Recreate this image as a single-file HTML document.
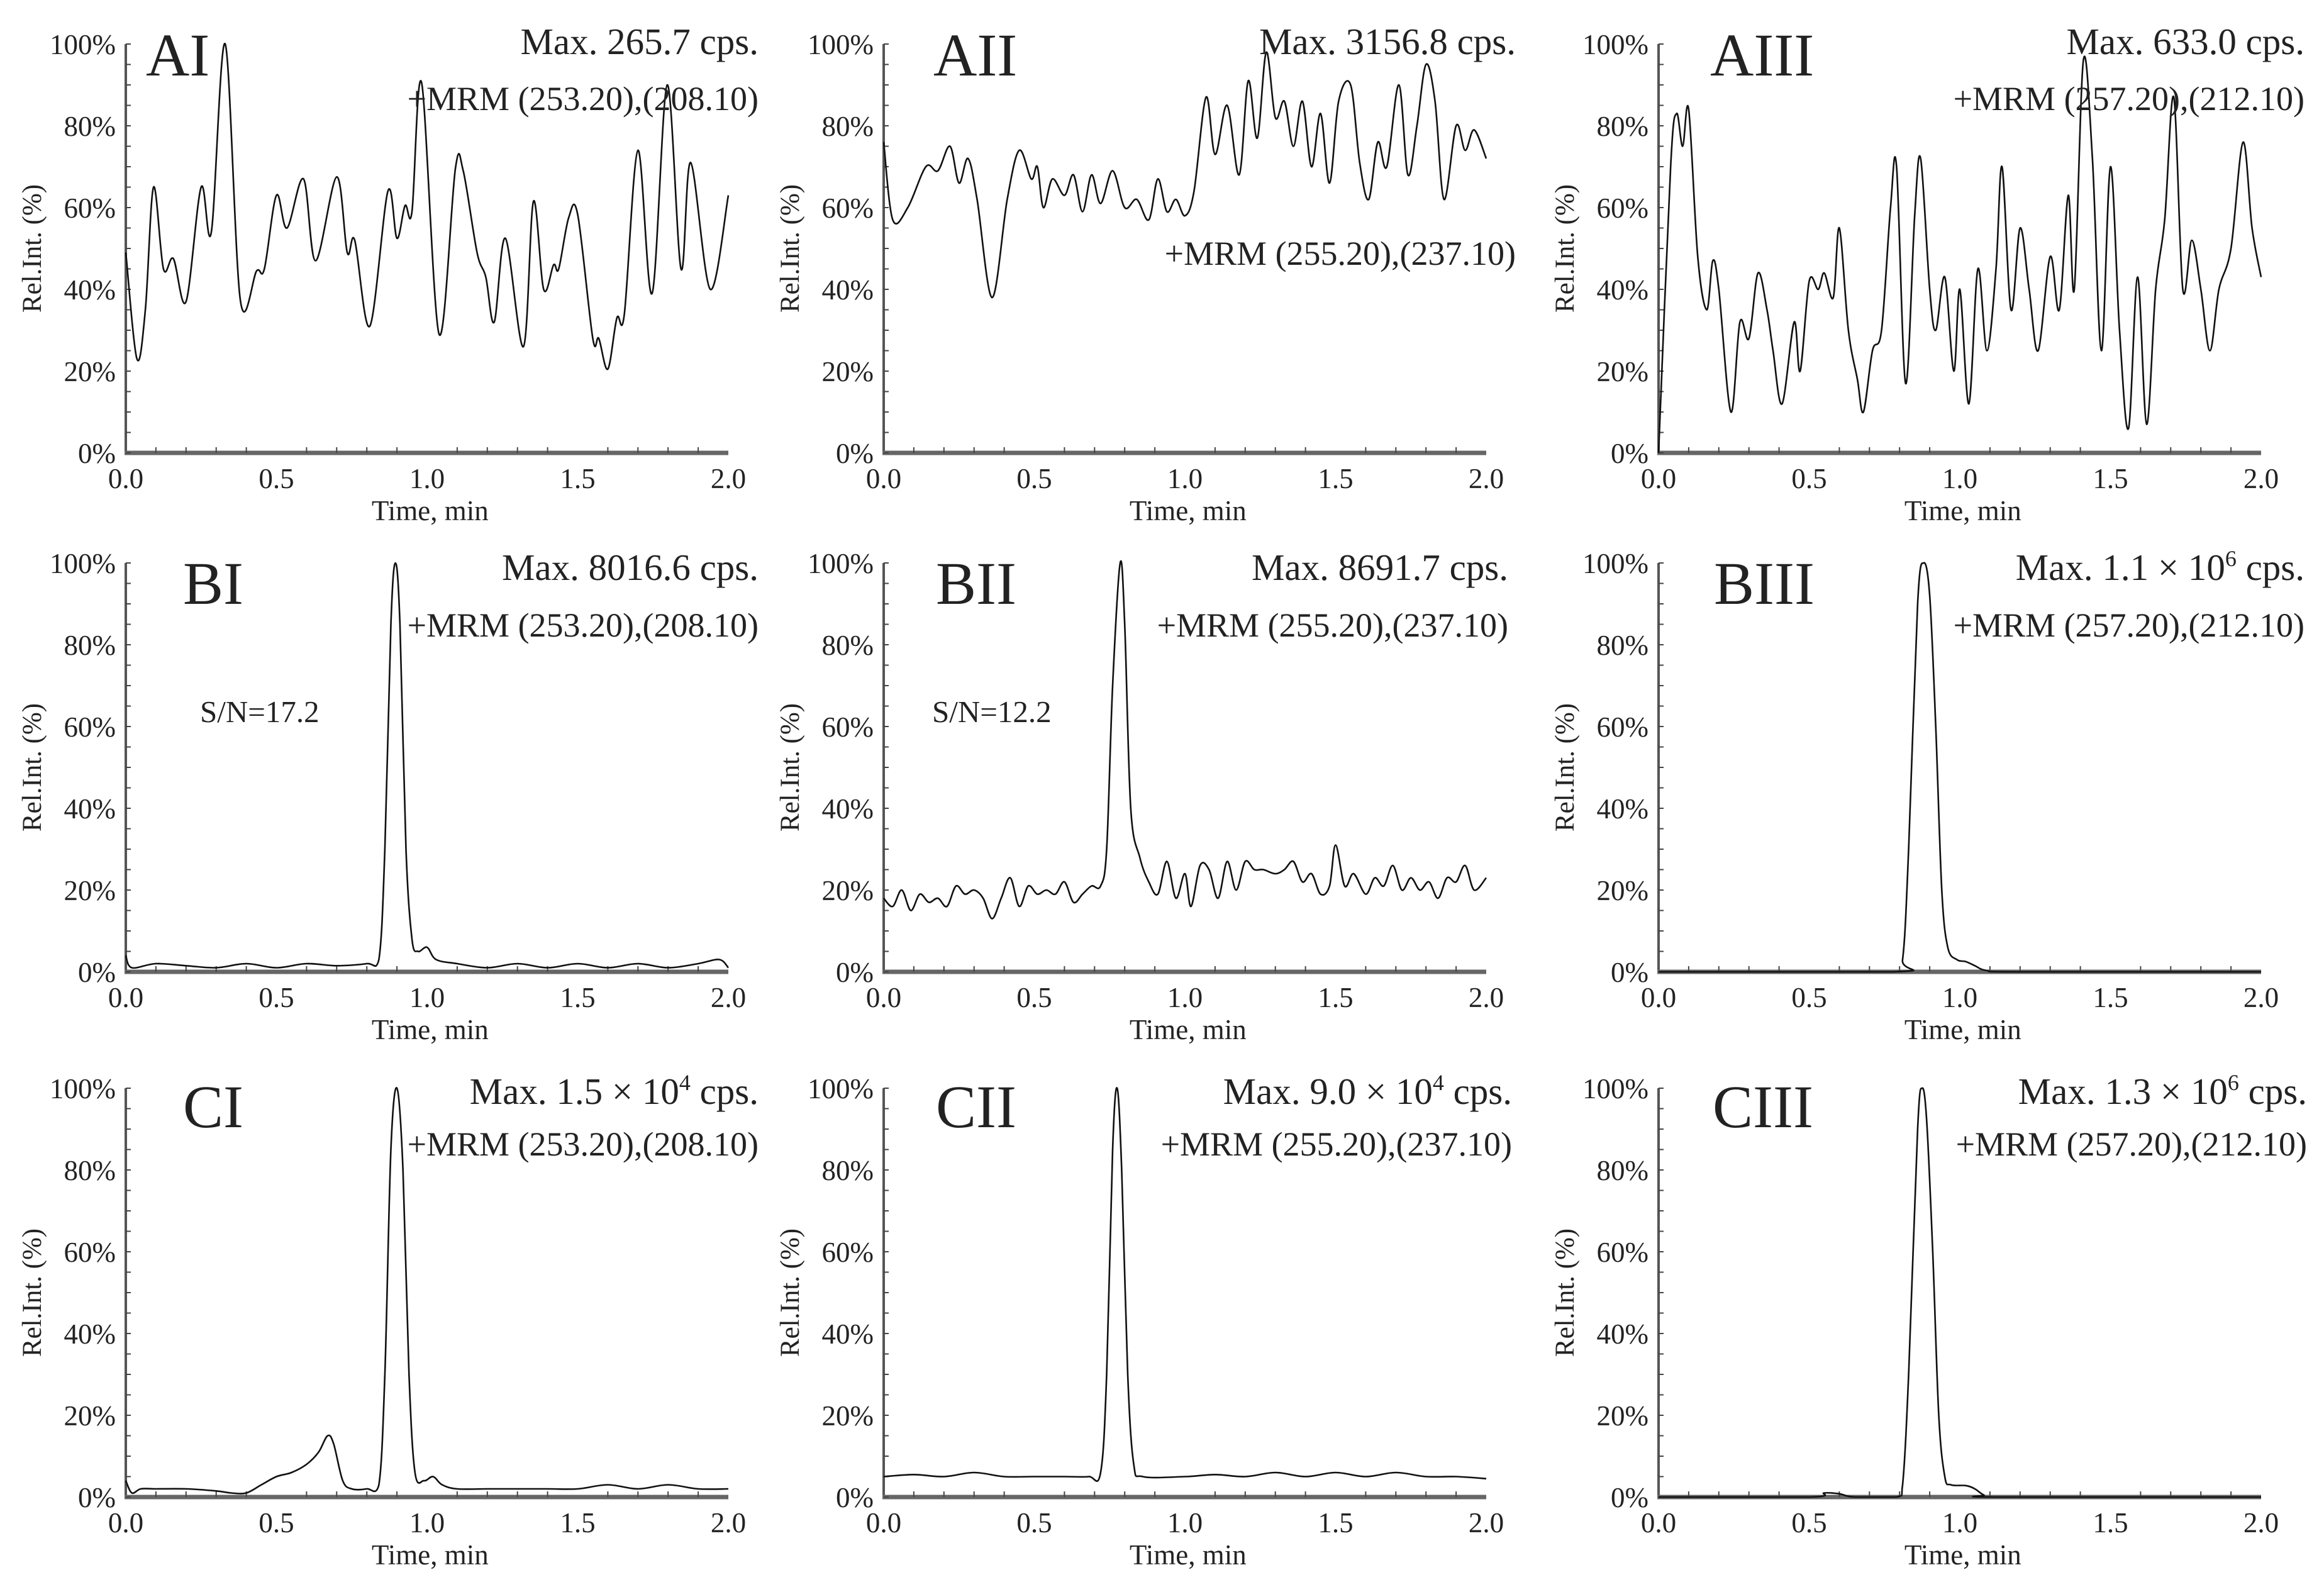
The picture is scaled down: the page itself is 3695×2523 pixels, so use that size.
<!DOCTYPE html>
<html><head><meta charset="utf-8"><style>
html,body{margin:0;padding:0;background:#fff;}
svg{display:block;font-family:"Liberation Serif",serif;}
</style></head><body>
<svg id="fig" width="3695" height="2523" viewBox="0 0 3695 2523" xmlns="http://www.w3.org/2000/svg"></svg>
<script>
// ---- data (time in min, relative intensity in %) ----
const tAI=[0,0.037,0.065,0.092,0.125,0.158,0.2,0.25,0.284,0.33,0.38,0.434,0.46,0.5,0.535,0.59,0.63,0.7,0.735,0.76,0.81,0.87,0.9,0.927,0.95,0.982,1.04,1.094,1.12,1.166,1.195,1.223,1.26,1.32,1.353,1.387,1.42,1.437,1.47,1.5,1.55,1.57,1.6,1.63,1.655,1.7,1.747,1.797,1.843,1.875,1.94,2.0];
const vAI=[49,23,35,65,45,47.5,37,65,54,100,37.5,44.5,45,63,55,67,47,67.5,49,52,31,64,52.5,60.5,59,90.5,29,69.5,69,49,43,32,52.5,26,61.5,40,46,45,57.5,58.3,28,28,20.5,33,34,74,39,90,45,71,40,63];
const tAII=[0,0.03,0.08,0.14,0.18,0.22,0.25,0.28,0.31,0.36,0.41,0.45,0.49,0.51,0.53,0.56,0.6,0.63,0.66,0.69,0.72,0.76,0.8,0.84,0.88,0.91,0.94,0.97,1.0,1.03,1.07,1.1,1.14,1.18,1.21,1.24,1.27,1.3,1.33,1.36,1.39,1.42,1.45,1.48,1.51,1.55,1.58,1.61,1.64,1.67,1.71,1.74,1.77,1.8,1.83,1.86,1.9,1.93,1.96,2.0];
const vAII=[76,57,60,70,69,75,66,72,62,38,62,74,67,70,60,67,63,68,59,68,61,69,60,62,57,67,59,62,58,64,87,73,85,68,91,77,98,82,86,75,86,70,83,66,86,90,71,62,76,70,90,68,80,95,86,62,80,74,79,72];
const tAIII=[0,0.04,0.06,0.08,0.1,0.13,0.16,0.18,0.2,0.24,0.27,0.3,0.33,0.36,0.38,0.41,0.45,0.47,0.5,0.53,0.55,0.58,0.6,0.63,0.66,0.68,0.71,0.74,0.77,0.79,0.82,0.85,0.87,0.9,0.92,0.95,0.98,1.0,1.03,1.06,1.09,1.12,1.14,1.17,1.2,1.23,1.26,1.3,1.33,1.36,1.38,1.41,1.44,1.47,1.5,1.53,1.56,1.59,1.62,1.65,1.68,1.71,1.74,1.77,1.8,1.83,1.86,1.9,1.94,1.97,2.0];
const vAIII=[0,70,83,75,84,48,35,47,40,10,32,28,44,35,25,12,32,20,42,40,44,38,55,30,18,10,25,30,60,70,17,58,72,40,30,43,20,40,12,45,25,45,70,35,55,40,25,48,35,63,40,96,72,25,70,30,6,43,7,40,57,87,40,52,40,25,40,50,76,55,43];
const tBI=[0,0.02,0.1,0.2,0.3,0.4,0.5,0.6,0.7,0.8,0.84,0.86,0.88,0.895,0.91,0.93,0.95,0.97,1.0,1.03,1.1,1.2,1.3,1.4,1.5,1.6,1.7,1.8,1.9,1.97,2.0];
const vBI=[4,1,2,1.5,1,2,1,2,1.5,2,3,30,85,100,85,30,8,5,6,3,2,1,2,1,2,1,2,1,2,3,1];
const tBII=[0,0.03,0.06,0.09,0.12,0.15,0.18,0.21,0.24,0.27,0.3,0.33,0.36,0.39,0.42,0.45,0.48,0.51,0.54,0.57,0.6,0.63,0.66,0.69,0.72,0.74,0.76,0.785,0.8,0.82,0.85,0.88,0.91,0.94,0.97,1.0,1.02,1.05,1.08,1.11,1.14,1.17,1.2,1.23,1.26,1.3,1.33,1.36,1.39,1.42,1.45,1.48,1.5,1.53,1.56,1.6,1.63,1.66,1.69,1.72,1.75,1.78,1.81,1.84,1.87,1.9,1.93,1.96,2.0];
const vBII=[18,16,20,15,19,17,18,16,21,19,20,18,13,18,23,16,21,19,20,19,22,17,19,21,21,30,70,100,85,40,28,22,19,27,18,24,16,26,25,18,27,20,27,25,25,24,25,27,22,24,19,21,31,21,24,19,23,21,26,20,23,20,22,18,23,22,26,20,23];
const tBIII=[0,0.78,0.81,0.83,0.86,0.88,0.9,0.92,0.94,0.96,0.99,1.02,1.05,1.09,1.2,2.0];
const vBIII=[0,0,3,30,90,100,92,60,20,6,3,2.5,1.5,0.3,0,0];
const tCI=[0,0.02,0.05,0.1,0.2,0.3,0.35,0.4,0.45,0.5,0.55,0.6,0.64,0.67,0.69,0.72,0.75,0.8,0.84,0.86,0.88,0.9,0.92,0.94,0.96,0.99,1.02,1.05,1.1,1.2,1.3,1.4,1.5,1.6,1.7,1.8,1.9,2.0];
const vCI=[4,1,2,2,2,1.5,1,1,3,5,6,8,11,15,13,4,2,2,3,30,85,100,80,30,6,4,5,3,2,2,2,2,2,3,2,3,2,2];
const tCII=[0,0.1,0.2,0.3,0.4,0.5,0.6,0.68,0.72,0.74,0.76,0.775,0.79,0.81,0.83,0.86,1.0,1.1,1.2,1.3,1.4,1.5,1.6,1.7,1.8,1.9,2.0];
const vCII=[5,5.5,5,6,5,5,5,5,6,30,85,100,80,30,8,5,5,5.5,5,6,5,6,5,6,5,5,4.5];
const tCIII=[0,0.5,0.55,0.6,0.65,0.79,0.81,0.83,0.86,0.875,0.89,0.91,0.93,0.95,0.97,1.02,1.05,1.08,1.12,2.0];
const vCIII=[0,0,1,0.8,0,0,3,30,90,100,92,60,20,5,3,2.8,2,0.5,0,0];
const xTicks=["0.0","0.5","1.0","1.5","2.0"];
const yTicks=["0%","20%","40%","60%","80%","100%"];
const panelLabels=["AI","AII","AIII","BI","BII","BIII","CI","CII","CIII"];
const maxTexts=["Max. 265.7 cps.","Max. 3156.8 cps.","Max. 633.0 cps.","Max. 8016.6 cps.","Max. 8691.7 cps.","Max. 1.1 × 10|6| cps.","Max. 1.5 × 10|4| cps.","Max. 9.0 × 10|4| cps.","Max. 1.3 × 10|6| cps."];
const mrmTexts=["+MRM (253.20),(208.10)","+MRM (255.20),(237.10)","+MRM (257.20),(212.10)"];
const snTexts=["S/N=17.2","S/N=12.2",""];

const series=[[tAI,vAI],[tAII,vAII],[tAIII,vAIII],[tBI,vBI],[tBII,vBII],[tBIII,vBIII],[tCI,vCI],[tCII,vCII],[tCIII,vCIII]];

// ---- layout ----
const colX0=[200,1405,2637], colW=958;
const rowY0=[720,1545,2380], rowH=650;
const labelX=[232,1484,2719,291,1488,2725,291,1488,2723];
const maxRight=[1206,2410,3664,1206,2398,3664,1206,2404,3668];
const NS="http://www.w3.org/2000/svg";
const svg=document.getElementById('fig');
function mk(tag,attrs,parent){const e=document.createElementNS(NS,tag);for(const k in attrs)e.setAttribute(k,attrs[k]);(parent||svg).appendChild(e);return e;}

for(let i=0;i<9;i++){
  const c=i%3,r=Math.floor(i/3);
  const x0=colX0[c],y0=rowY0[r];
  const sx=t=>x0+t/2*colW;
  const sy=v=>y0-v/100*rowH;
  const g=mk('g',{});
  
  
  const ya=mk('line',{x1:x0,y1:sy(100),x2:x0,y2:y0,stroke:'#555','stroke-width':4},g);
  
  const xa=mk('line',{x1:x0-2,y1:y0,x2:x0+colW,y2:y0,stroke:'#666','stroke-width':7},g);
  
  for(let k=0;k<=20;k++){const tx=sx(k*0.1);mk('line',{x1:tx,y1:y0,x2:tx,y2:y0-(k%5==0?0:9),stroke:'#444','stroke-width':2},g);}
  for(let k=0;k<=20;k++){const ty=sy(k*5);mk('line',{x1:x0,y1:ty,x2:x0+8,y2:ty,stroke:'#444','stroke-width':2},g);}
  xTicks.forEach((s,k)=>{const e=mk('text',{x:sx(parseFloat(s)),y:y0+56,'font-size':45,'text-anchor':'middle',fill:'#222'},g);e.textContent=s;
    });
  yTicks.forEach((s,k)=>{const e=mk('text',{x:x0-16,y:sy(parseFloat(s))+16,'font-size':45,'text-anchor':'end',fill:'#222'},g);e.textContent=s;
    });
  const xt=mk('text',{x:x0+colW*0.505,y:y0+107,'font-size':45,'text-anchor':'middle',fill:'#222'},g);xt.textContent='Time, min';
  
  const yx=x0-135,yy=y0-rowH/2;
  const yt=mk('text',{x:yx,y:yy,'font-size':43,'text-anchor':'middle',fill:'#222',transform:`rotate(-90 ${yx} ${yy})`},g);yt.textContent='Rel.Int. (%)';
  
  const [T,V]=series[i];
  const P=T.map((t,k)=>[sx(t),sy(V[k])]);
  let d='M'+P[0][0].toFixed(1)+','+P[0][1].toFixed(1);
  for(let k=0;k<P.length-1;k++){
    const p0=P[Math.max(0,k-1)],p1=P[k],p2=P[k+1],p3=P[Math.min(P.length-1,k+2)];
    const c1x=p1[0]+(p2[0]-p0[0])/6,c1y=Math.min(y0,p1[1]+(p2[1]-p0[1])/6);
    const c2x=p2[0]-(p3[0]-p1[0])/6,c2y=Math.min(y0,p2[1]-(p3[1]-p1[1])/6);
    d+=` C${c1x.toFixed(1)},${c1y.toFixed(1)} ${c2x.toFixed(1)},${c2y.toFixed(1)} ${p2[0].toFixed(1)},${p2[1].toFixed(1)}`;
  }
  const tr=mk('path',{d:d,fill:'none',stroke:'#111','stroke-width':2.6,'stroke-linejoin':'round'},g);
  
  
  const lb=mk('text',{x:labelX[i],y:[120,960,1792][r],'font-size':96,fill:'#222'},g);
  lb.textContent=panelLabels[i];
  
  const mt=mk('text',{x:maxRight[i],y:[86,922,1755][r],'font-size':59,'text-anchor':'end',fill:'#222'},g);
  const parts=maxTexts[i].split('|');
  if(parts.length==1){mt.textContent=parts[0];}
  else{const a=mk('tspan',{},mt);a.textContent=parts[0];const b=mk('tspan',{'font-size':36,dy:-22},mt);b.textContent=parts[1];const cc=mk('tspan',{dy:22},mt);cc.textContent=parts[2];}
  
  const myy=(i==1)?421:[175,1012,1837][r];
  const mr=mk('text',{x:maxRight[i],y:myy,'font-size':54,'text-anchor':'end',fill:'#222'},g);mr.textContent=mrmTexts[c];
  
  if(r==1&&snTexts[c]){const sn=mk('text',{x:[318,1482][c],y:1148,'font-size':49,fill:'#222'},g);sn.textContent=snTexts[c];
    }
}
</script>
</body></html>
